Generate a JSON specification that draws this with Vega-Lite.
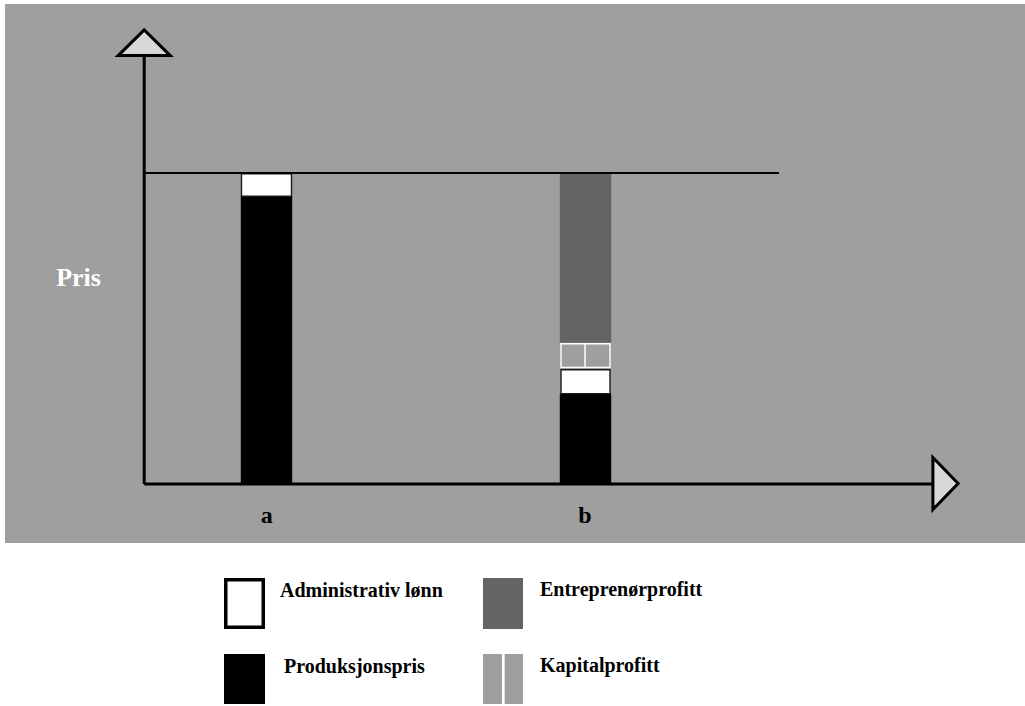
{
  "$schema": "https://vega.github.io/schema/vega-lite/v6.json",
  "width": 1025,
  "height": 706,
  "autosize": {"type": "fit", "contains": "padding"},
  "padding": 0,
  "background": "white",
  "config": {"view": {"stroke": null}, "axis": {"disable": true}, "legend": {"disable": true}},
  "resolve": {"scale": {"stroke": "independent"}},
  "datasets": {
    "panel": [{"x0": 5, "x1": 1025, "y0": -18.97, "y1": 154.34}],
    "segments": [
      {"bar": "a", "part": "Produksjonspris", "x0": 241.5, "x1": 291.5, "y0": 0, "y1": 92.28},
      {"bar": "a", "part": "Administrativ lønn", "x0": 241.5, "x1": 291.5, "y0": 92.5, "y1": 99.75},
      {"bar": "b", "part": "Produksjonspris", "x0": 560.5, "x1": 610.5, "y0": 0, "y1": 28.84},
      {"bar": "b", "part": "Administrativ lønn", "x0": 561, "x1": 610, "y0": 29.05, "y1": 36.75},
      {"bar": "b", "part": "Kapitalprofitt", "x0": 561, "x1": 610, "y0": 37.5, "y1": 45.1},
      {"bar": "b", "part": "Entreprenørprofitt", "x0": 560.5, "x1": 610.5, "y0": 45.66, "y1": 100}
    ],
    "dividers": [{"x": 585, "y0": 37.5, "y1": 45.1}],
    "legendBoxes": [
      {"part": "Administrativ lønn", "x0": 225.75, "x1": 263.25, "y0": -30.79, "y1": -46.06},
      {"part": "Entreprenørprofitt", "x0": 483, "x1": 523, "y0": -30.23, "y1": -46.62},
      {"part": "Produksjonspris", "x0": 224, "x1": 265, "y0": -54.66, "y1": -70.74},
      {"part": "Kapitalprofitt", "x0": 483, "x1": 523, "y0": -54.66, "y1": -70.74}
    ],
    "legendDivider": [{"x": 503.3, "y0": -54.66, "y1": -70.74}],
    "legendLabels": [
      {"label": "Administrativ lønn", "x": 280, "y": -36.24},
      {"label": "Entreprenørprofitt", "x": 540, "y": -36.1},
      {"label": "Produksjonspris", "x": 284, "y": -60.87},
      {"label": "Kapitalprofitt", "x": 540, "y": -60.4}
    ],
    "axes": [
      {"axis": "y", "x0": 144.2, "x1": 144.2, "y0": 0, "y1": 137.3},
      {"axis": "x", "x0": 144.2, "x1": 933, "y0": 0, "y1": 0}
    ],
    "priceLine": [{"x0": 144.2, "x1": 779, "y": 100}],
    "arrows": [
      {"dir": "up", "x": 144.2, "y": 141.9},
      {"dir": "right", "x": 945.5, "y": 0.16}
    ],
    "categories": [
      {"label": "a", "x": 266.7, "y": -12.64},
      {"label": "b", "x": 585, "y": -12.64}
    ],
    "axisTitle": [{"label": "Pris", "x": 78.5, "y": 63.76}]
  },
  "layer": [
    {
      "data": {"name": "panel"},
      "mark": {"type": "rect", "fill": "#9e9fa1"},
      "encoding": {
        "x": {"field": "x0", "type": "quantitative", "scale": {"domain": [0, 1025], "zero": false, "nice": false}},
        "x2": {"field": "x1"},
        "y": {"field": "y0", "type": "quantitative", "scale": {"domain": [-71.383, 155.627], "zero": false, "nice": false}},
        "y2": {"field": "y1"}
      }
    },
    {
      "data": {"name": "segments"},
      "mark": {"type": "rect", "strokeWidth": 1.4},
      "encoding": {
        "x": {"field": "x0", "type": "quantitative", "scale": {"domain": [0, 1025], "zero": false, "nice": false}},
        "x2": {"field": "x1"},
        "y": {"field": "y0", "type": "quantitative", "scale": {"domain": [-71.383, 155.627], "zero": false, "nice": false}},
        "y2": {"field": "y1"},
        "fill": {"field": "part", "type": "nominal", "legend": null, "scale": {"domain": ["Administrativ lønn", "Entreprenørprofitt", "Produksjonspris", "Kapitalprofitt"], "range": ["#ffffff", "#636466", "#000000", "#9e9fa1"]}},
        "stroke": {"field": "part", "type": "nominal", "legend": null, "scale": {"domain": ["Administrativ lønn", "Entreprenørprofitt", "Produksjonspris", "Kapitalprofitt"], "range": ["#1a1a1a", "#636466", "#000000", "#ffffff"]}}
      }
    },
    {
      "data": {"name": "dividers"},
      "mark": {"type": "rule", "stroke": "#ffffff", "strokeWidth": 1.5},
      "encoding": {
        "x": {"field": "x", "type": "quantitative", "scale": {"domain": [0, 1025], "zero": false, "nice": false}},
        "y": {"field": "y0", "type": "quantitative", "scale": {"domain": [-71.383, 155.627], "zero": false, "nice": false}},
        "y2": {"field": "y1"}
      }
    },
    {
      "data": {"name": "legendBoxes"},
      "mark": {"type": "rect", "strokeWidth": 3.5},
      "encoding": {
        "x": {"field": "x0", "type": "quantitative", "scale": {"domain": [0, 1025], "zero": false, "nice": false}},
        "x2": {"field": "x1"},
        "y": {"field": "y0", "type": "quantitative", "scale": {"domain": [-71.383, 155.627], "zero": false, "nice": false}},
        "y2": {"field": "y1"},
        "fill": {"field": "part", "type": "nominal", "legend": null, "scale": {"domain": ["Administrativ lønn", "Entreprenørprofitt", "Produksjonspris", "Kapitalprofitt"], "range": ["#ffffff", "#636466", "#000000", "#9e9fa1"]}},
        "stroke": {"field": "part", "type": "nominal", "legend": null, "scale": {"domain": ["Administrativ lønn", "Entreprenørprofitt", "Produksjonspris", "Kapitalprofitt"], "range": ["#000000", "transparent", "transparent", "transparent"]}}
      }
    },
    {
      "data": {"name": "legendDivider"},
      "mark": {"type": "rule", "stroke": "#ffffff", "strokeWidth": 2.7},
      "encoding": {
        "x": {"field": "x", "type": "quantitative", "scale": {"domain": [0, 1025], "zero": false, "nice": false}},
        "y": {"field": "y0", "type": "quantitative", "scale": {"domain": [-71.383, 155.627], "zero": false, "nice": false}},
        "y2": {"field": "y1"}
      }
    },
    {
      "data": {"name": "priceLine"},
      "mark": {"type": "rule", "stroke": "#000000", "strokeWidth": 1.8},
      "encoding": {
        "x": {"field": "x0", "type": "quantitative", "scale": {"domain": [0, 1025], "zero": false, "nice": false}},
        "x2": {"field": "x1"},
        "y": {"field": "y", "type": "quantitative", "scale": {"domain": [-71.383, 155.627], "zero": false, "nice": false}}
      }
    },
    {
      "data": {"name": "axes"},
      "mark": {"type": "rule", "stroke": "#000000", "strokeWidth": 3},
      "encoding": {
        "x": {"field": "x0", "type": "quantitative", "scale": {"domain": [0, 1025], "zero": false, "nice": false}},
        "x2": {"field": "x1"},
        "y": {"field": "y0", "type": "quantitative", "scale": {"domain": [-71.383, 155.627], "zero": false, "nice": false}},
        "y2": {"field": "y1"}
      }
    },
    {
      "data": {"name": "arrows"},
      "mark": {"type": "point", "size": 3136, "filled": true, "fill": "#d7d8da", "stroke": "#000000", "strokeWidth": 3, "opacity": 1, "strokeJoin": "miter"},
      "encoding": {
        "x": {"field": "x", "type": "quantitative", "scale": {"domain": [0, 1025], "zero": false, "nice": false}},
        "y": {"field": "y", "type": "quantitative", "scale": {"domain": [-71.383, 155.627], "zero": false, "nice": false}},
        "shape": {"field": "dir", "type": "nominal", "legend": null, "scale": {"domain": ["up", "right"], "range": ["M-0.93,0.46L0,-0.46L0.93,0.46Z", "M-0.45,-0.93L0.45,0L-0.45,0.93Z"]}}
      }
    },
    {
      "data": {"name": "categories"},
      "mark": {"type": "text", "font": "Liberation Serif", "fontWeight": "bold", "fontSize": 24, "align": "center", "baseline": "alphabetic", "color": "#000000"},
      "encoding": {
        "x": {"field": "x", "type": "quantitative", "scale": {"domain": [0, 1025], "zero": false, "nice": false}},
        "y": {"field": "y", "type": "quantitative", "scale": {"domain": [-71.383, 155.627], "zero": false, "nice": false}},
        "text": {"field": "label"}
      }
    },
    {
      "data": {"name": "axisTitle"},
      "mark": {"type": "text", "font": "Liberation Serif", "fontWeight": "bold", "fontSize": 26, "align": "center", "baseline": "alphabetic", "color": "#ffffff"},
      "encoding": {
        "x": {"field": "x", "type": "quantitative", "scale": {"domain": [0, 1025], "zero": false, "nice": false}},
        "y": {"field": "y", "type": "quantitative", "scale": {"domain": [-71.383, 155.627], "zero": false, "nice": false}},
        "text": {"field": "label"}
      }
    },
    {
      "data": {"name": "legendLabels"},
      "mark": {"type": "text", "font": "Liberation Serif", "fontWeight": "bold", "fontSize": 20, "align": "left", "baseline": "alphabetic", "color": "#000000"},
      "encoding": {
        "x": {"field": "x", "type": "quantitative", "scale": {"domain": [0, 1025], "zero": false, "nice": false}},
        "y": {"field": "y", "type": "quantitative", "scale": {"domain": [-71.383, 155.627], "zero": false, "nice": false}},
        "text": {"field": "label"}
      }
    }
  ]
}
